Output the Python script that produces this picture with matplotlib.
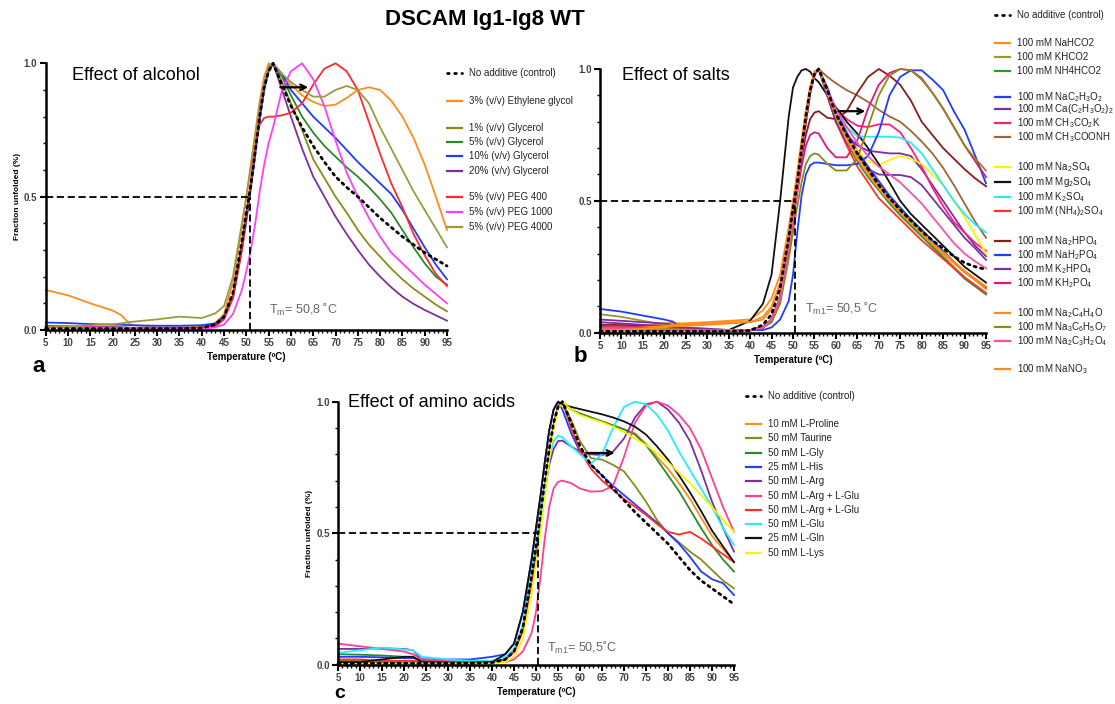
import matplotlib
matplotlib.use("Agg")
import matplotlib.pyplot as plt
from matplotlib.lines import Line2D

plt.rcParams['font.family'] = ['Liberation Sans', 'DejaVu Sans']
plt.rcParams['mathtext.fontset'] = 'custom'
plt.rcParams['mathtext.rm'] = 'Liberation Sans'
plt.rcParams['mathtext.default'] = 'regular'

# temperature grid shared by every curve
temps = [5, 10, 15, 20, 22, 24, 30, 35, 40,
         43, 45, 47, 49, 50, 51, 52, 53, 54, 55, 56,
         58, 60, 62.5, 65, 67.5, 70, 72.5, 75, 77.5, 80, 82.5, 85, 87.5, 90, 92.5, 95]

# ---- panel a: alcohols ----
control_a = [0.005, 0.005, 0.005, 0.005, 0.005, 0.005, 0.005, 0.005, 0.008,
             0.02, 0.05, 0.14, 0.33, 0.44, 0.54, 0.67, 0.8, 0.91, 0.97, 1.0,
             0.92, 0.84, 0.76, 0.69, 0.63, 0.575, 0.535, 0.5, 0.46, 0.42, 0.385, 0.35, 0.32, 0.29, 0.265, 0.24]
eg_3 = [0.15, 0.13, 0.1, 0.073, 0.055, 0.02, 0.01, 0.01, 0.012,
        0.025, 0.06, 0.18, 0.38, 0.5, 0.62, 0.74, 0.86, 0.95, 1.0, 0.99,
        0.96, 0.92, 0.88, 0.855, 0.84, 0.845, 0.87, 0.9, 0.91, 0.9, 0.86, 0.8, 0.72, 0.62, 0.5, 0.375]
gly_1 = [0.01, 0.01, 0.008, 0.008, 0.008, 0.008, 0.005, 0.005, 0.005,
         0.015, 0.045, 0.13, 0.32, 0.43, 0.55, 0.68, 0.81, 0.92, 0.98, 1.0,
         0.93, 0.85, 0.75, 0.64, 0.57, 0.5, 0.44, 0.375, 0.32, 0.275, 0.23, 0.19, 0.155, 0.125, 0.095, 0.07]
gly_5 = [0.012, 0.012, 0.01, 0.01, 0.01, 0.008, 0.008, 0.008, 0.008,
         0.02, 0.05, 0.13, 0.32, 0.43, 0.55, 0.68, 0.81, 0.92, 0.98, 1.0,
         0.95, 0.88, 0.8, 0.74, 0.69, 0.65, 0.61, 0.575, 0.535, 0.49, 0.44, 0.375, 0.31, 0.25, 0.2, 0.17]
gly_10 = [0.028, 0.026, 0.022, 0.02, 0.02, 0.018, 0.016, 0.016, 0.018,
          0.025, 0.05, 0.12, 0.3, 0.41, 0.53, 0.66, 0.79, 0.9, 0.97, 1.0,
          0.96, 0.9, 0.85, 0.8, 0.76, 0.72, 0.675, 0.63, 0.59, 0.55, 0.51, 0.45, 0.38, 0.31, 0.245, 0.19]
gly_20 = [0.015, 0.014, 0.012, 0.01, 0.01, 0.008, 0.008, 0.008, 0.008,
          0.02, 0.05, 0.13, 0.31, 0.42, 0.54, 0.67, 0.8, 0.91, 0.98, 1.0,
          0.9, 0.8, 0.68, 0.575, 0.5, 0.425, 0.36, 0.3, 0.245, 0.2, 0.16, 0.125, 0.098, 0.075, 0.055, 0.035]
peg_400 = [0.012, 0.01, 0.01, 0.008, 0.008, 0.006, 0.005, 0.005, 0.005,
           0.012, 0.04, 0.12, 0.3, 0.42, 0.55, 0.7, 0.77, 0.795, 0.8, 0.8,
           0.805, 0.815, 0.85, 0.92, 0.98, 1.0, 0.97, 0.9, 0.78, 0.66, 0.55, 0.46, 0.36, 0.28, 0.21, 0.165]
peg_1000 = [0.01, 0.01, 0.01, 0.008, 0.008, 0.008, 0.006, 0.005, 0.005,
            0.01, 0.02, 0.06, 0.15, 0.22, 0.3, 0.4, 0.52, 0.62, 0.7, 0.76,
            0.9, 0.97, 1.0, 0.94, 0.84, 0.71, 0.59, 0.5, 0.42, 0.35, 0.29, 0.25, 0.21, 0.17, 0.135, 0.1]
peg_4000 = [0.01, 0.012, 0.018, 0.022, 0.025, 0.03, 0.04, 0.05, 0.045,
            0.062, 0.09, 0.2, 0.4, 0.5, 0.61, 0.73, 0.84, 0.93, 0.99, 1.0,
            0.96, 0.93, 0.9, 0.875, 0.875, 0.9, 0.915, 0.9, 0.85, 0.76, 0.68, 0.6, 0.52, 0.45, 0.38, 0.31]

labels_a = ["3% (v/v) Ethylene glycol", "1% (v/v) Glycerol", "5% (v/v) Glycerol",
            "10% (v/v) Glycerol", "20% (v/v) Glycerol", "5% (v/v) PEG 400",
            "5% (v/v) PEG 1000", "5% (v/v) PEG 4000"]
colors_a = ["#ff8c1a", "#8b8b1a", "#2a8a2a", "#1f3cff", "#7b2fa3", "#ff2a2a", "#ff3dff", "#9b9b3c"]
series_a = [eg_3, gly_1, gly_5, gly_10, gly_20, peg_400, peg_1000, peg_4000]
legend_y_a = [100.7, 128.3, 141.7, 156, 170.7, 197.3, 212.3, 226.7]

# ---- panel b: salts ----
control_b = [0.005, 0.005, 0.005, 0.005, 0.005, 0.005, 0.005, 0.005, 0.008,
             0.03, 0.07, 0.17, 0.36, 0.47, 0.57, 0.7, 0.82, 0.92, 0.98, 1.0,
             0.92, 0.83, 0.75, 0.68, 0.62, 0.56, 0.51, 0.465, 0.425, 0.385, 0.35, 0.32, 0.29, 0.265, 0.25, 0.24]
nahco2 = [0.0, 0.012, 0.025, 0.035, 0.038, 0.035, 0.04, 0.045, 0.05,
          0.085, 0.13, 0.22, 0.4, 0.5, 0.61, 0.73, 0.84, 0.93, 0.99, 1.0,
          0.93, 0.84, 0.75, 0.68, 0.62, 0.565, 0.51, 0.465, 0.42, 0.38, 0.34, 0.3, 0.265, 0.23, 0.2, 0.17]
khco2 = [0.07, 0.06, 0.045, 0.03, 0.025, 0.02, 0.015, 0.01, 0.01,
         0.02, 0.05, 0.14, 0.33, 0.44, 0.56, 0.69, 0.81, 0.92, 0.98, 1.0,
         0.92, 0.82, 0.74, 0.67, 0.61, 0.55, 0.5, 0.45, 0.41, 0.37, 0.33, 0.29, 0.25, 0.21, 0.18, 0.15]
nh4hco2 = [0.02, 0.02, 0.015, 0.015, 0.012, 0.01, 0.01, 0.01, 0.01,
           0.02, 0.05, 0.13, 0.32, 0.43, 0.55, 0.68, 0.8, 0.91, 0.98, 1.0,
           0.91, 0.81, 0.72, 0.65, 0.59, 0.54, 0.49, 0.445, 0.405, 0.365, 0.325, 0.285, 0.245, 0.205, 0.175, 0.145]
nac2h3o2 = [0.09, 0.08, 0.065, 0.05, 0.042, 0.012, 0.01, 0.01, 0.01,
            0.02, 0.04, 0.12, 0.3, 0.42, 0.55, 0.68, 0.8, 0.91, 0.98, 1.0,
            0.93, 0.84, 0.76, 0.69, 0.63, 0.575, 0.52, 0.475, 0.43, 0.39, 0.35, 0.31, 0.27, 0.23, 0.2, 0.17]
ca_acetate = [0.05, 0.045, 0.04, 0.035, 0.03, 0.02, 0.015, 0.01, 0.01,
              0.02, 0.05, 0.13, 0.32, 0.43, 0.55, 0.68, 0.8, 0.91, 0.98, 1.0,
              0.9, 0.8, 0.75, 0.71, 0.69, 0.685, 0.68, 0.68, 0.67, 0.62, 0.56, 0.5, 0.44, 0.38, 0.33, 0.29]
ch3co2k = [0.03, 0.03, 0.025, 0.02, 0.02, 0.015, 0.01, 0.01, 0.01,
           0.02, 0.05, 0.13, 0.32, 0.43, 0.55, 0.68, 0.8, 0.91, 0.98, 1.0,
           0.9, 0.85, 0.81, 0.785, 0.78, 0.79, 0.79, 0.76, 0.7, 0.63, 0.55, 0.48, 0.42, 0.38, 0.34, 0.31]
ch3coonh = [0.02, 0.02, 0.018, 0.015, 0.015, 0.012, 0.01, 0.01, 0.01,
            0.02, 0.05, 0.13, 0.32, 0.43, 0.55, 0.68, 0.8, 0.91, 0.98, 1.0,
            0.97, 0.946, 0.92, 0.9, 0.875, 0.845, 0.82, 0.8, 0.765, 0.725, 0.68, 0.625, 0.56, 0.49, 0.42, 0.36]
na2so4 = [0.01, 0.01, 0.01, 0.01, 0.01, 0.008, 0.008, 0.008, 0.008,
          0.02, 0.05, 0.13, 0.32, 0.43, 0.55, 0.68, 0.8, 0.91, 0.98, 1.0,
          0.9, 0.8, 0.74, 0.69, 0.65, 0.635, 0.655, 0.67, 0.66, 0.64, 0.6, 0.56, 0.5, 0.44, 0.37, 0.3]
mg2so4 = [0.005, 0.005, 0.005, 0.005, 0.005, 0.005, 0.005, 0.01, 0.045,
          0.11, 0.22, 0.5, 0.82, 0.93, 0.97, 0.995, 1.0, 0.99, 0.965, 0.95,
          0.9, 0.855, 0.8, 0.755, 0.7, 0.64, 0.57, 0.5, 0.45, 0.41, 0.37, 0.33, 0.29, 0.25, 0.22, 0.19]
k2so4 = [0.005, 0.005, 0.005, 0.005, 0.005, 0.005, 0.005, 0.005, 0.008,
         0.02, 0.05, 0.13, 0.32, 0.43, 0.55, 0.68, 0.8, 0.91, 0.98, 1.0,
         0.9, 0.84, 0.78, 0.745, 0.743, 0.743, 0.743, 0.74, 0.72, 0.68, 0.62, 0.56, 0.5, 0.45, 0.41, 0.38]
nh42so4 = [0.015, 0.015, 0.012, 0.012, 0.01, 0.01, 0.008, 0.008, 0.008,
           0.02, 0.05, 0.13, 0.32, 0.43, 0.55, 0.68, 0.8, 0.91, 0.98, 1.0,
           0.9, 0.8, 0.71, 0.63, 0.57, 0.51, 0.47, 0.43, 0.39, 0.35, 0.315, 0.28, 0.245, 0.21, 0.18, 0.15]
na2hpo4 = [0.03, 0.028, 0.025, 0.02, 0.02, 0.015, 0.01, 0.01, 0.01,
           0.02, 0.05, 0.13, 0.32, 0.43, 0.55, 0.66, 0.75, 0.81, 0.835, 0.84,
           0.815, 0.81, 0.84, 0.91, 0.97, 1.0, 0.975, 0.94, 0.88, 0.8, 0.75, 0.7, 0.66, 0.62, 0.585, 0.555]
nah2po4 = [0.02, 0.02, 0.018, 0.015, 0.015, 0.012, 0.01, 0.01, 0.01,
           0.01, 0.02, 0.05, 0.12, 0.22, 0.38, 0.52, 0.6, 0.635, 0.645, 0.645,
           0.64, 0.635, 0.635, 0.64, 0.67, 0.76, 0.9, 0.97, 0.995, 0.995, 0.96, 0.92, 0.84, 0.77, 0.67, 0.566]
k2hpo4 = [0.04, 0.035, 0.03, 0.025, 0.02, 0.015, 0.01, 0.01, 0.01,
          0.02, 0.05, 0.13, 0.32, 0.43, 0.55, 0.68, 0.8, 0.91, 0.98, 1.0,
          0.9, 0.8, 0.72, 0.67, 0.62, 0.6, 0.598, 0.598, 0.59, 0.56, 0.51, 0.46, 0.41, 0.36, 0.32, 0.276]
kh2po4 = [0.025, 0.025, 0.02, 0.02, 0.018, 0.012, 0.01, 0.01, 0.01,
          0.02, 0.05, 0.13, 0.31, 0.42, 0.53, 0.63, 0.71, 0.75, 0.76, 0.755,
          0.7, 0.665, 0.665, 0.73, 0.85, 0.94, 0.985, 1.0, 0.995, 0.965, 0.91, 0.85, 0.78, 0.71, 0.65, 0.59]
na2c4h4o = [0.01, 0.015, 0.02, 0.025, 0.03, 0.03, 0.035, 0.04, 0.04,
            0.06, 0.1, 0.19, 0.38, 0.49, 0.6, 0.72, 0.84, 0.93, 0.99, 1.0,
            0.92, 0.83, 0.74, 0.67, 0.61, 0.555, 0.505, 0.46, 0.42, 0.38, 0.34, 0.305, 0.27, 0.235, 0.205, 0.175]
na3c6h5o7 = [0.02, 0.02, 0.018, 0.015, 0.015, 0.012, 0.01, 0.01, 0.01,
             0.02, 0.04, 0.11, 0.28, 0.38, 0.48, 0.57, 0.64, 0.67, 0.68, 0.675,
             0.64, 0.615, 0.615, 0.66, 0.78, 0.9, 0.975, 1.0, 0.995, 0.96, 0.91, 0.85, 0.78, 0.71, 0.66, 0.615]
na2c3h2o4 = [0.015, 0.015, 0.012, 0.012, 0.01, 0.01, 0.008, 0.008, 0.008,
             0.02, 0.05, 0.13, 0.32, 0.43, 0.55, 0.68, 0.8, 0.91, 0.98, 1.0,
             0.92, 0.85, 0.78, 0.72, 0.67, 0.63, 0.6, 0.57, 0.53, 0.49, 0.44, 0.39, 0.34, 0.3, 0.27, 0.244]
nano3 = [0.005, 0.01, 0.015, 0.02, 0.025, 0.025, 0.03, 0.035, 0.04,
         0.05, 0.09, 0.18, 0.37, 0.48, 0.59, 0.71, 0.83, 0.93, 0.99, 1.0,
         0.91, 0.82, 0.73, 0.66, 0.6, 0.545, 0.5, 0.455, 0.415, 0.375, 0.335, 0.3, 0.265, 0.23, 0.2, 0.165]

labels_b = ["100 mM NaHCO2", "100 mM KHCO2", "100 mM NH4HCO2",
            "100 mM NaC$_2$H$_3$O$_2$", "100 mM Ca(C$_2$H$_3$O$_2$)$_2$",
            "100 mM CH$_3$CO$_2$K", "100 mM CH$_3$COONH",
            "100 mM Na$_2$SO$_4$", "100 mM Mg$_2$SO$_4$", "100 mM K$_2$SO$_4$",
            "100 mM (NH$_4$)$_2$SO$_4$",
            "100 mM Na$_2$HPO$_4$", "100 mM NaH$_2$PO$_4$", "100 mM K$_2$HPO$_4$",
            "100 mM KH$_2$PO$_4$",
            "100 mM Na$_2$C$_4$H$_4$O", "100 mM Na$_3$C$_6$H$_5$O$_7$",
            "100 mM Na$_2$C$_3$H$_2$O$_4$", "100 mM NaNO$_3$"]
colors_b = ["#ff8c1a", "#9b9b2a", "#2a9a2a", "#1f3cff", "#7b2fa3", "#ff1f7a", "#a0643a",
            "#f5f500", "#111111", "#22eeff", "#ff3030",
            "#8b1c1c", "#1f3cff", "#7b2fa3", "#e0177a",
            "#ff8c1a", "#8b8b1a", "#ff4fa3", "#ff8c1a"]
series_b = [nahco2, khco2, nh4hco2, nac2h3o2, ca_acetate, ch3co2k, ch3coonh,
            na2so4, mg2so4, k2so4, nh42so4, na2hpo4, nah2po4, k2hpo4, kh2po4,
            na2c4h4o, na3c6h5o7, na2c3h2o4, nano3]
legend_y_b = [43.3, 57.3, 71, 96.7, 109.3, 122.7, 137.3, 166.7, 182.3, 196.7, 211,
              240.7, 255, 269.3, 283.3, 312.7, 326.7, 340.7, 369.3]

# ---- panel c: amino acids ----
control_c = [0.005, 0.005, 0.005, 0.005, 0.005, 0.005, 0.005, 0.005, 0.008,
             0.02, 0.05, 0.14, 0.34, 0.45, 0.57, 0.7, 0.82, 0.92, 0.98, 1.0,
             0.92, 0.83, 0.76, 0.72, 0.67, 0.625, 0.58, 0.54, 0.5, 0.46, 0.41, 0.36, 0.32, 0.29, 0.26, 0.23]
proline = [0.01, 0.01, 0.01, 0.01, 0.01, 0.005, 0.005, 0.005, 0.008,
           0.02, 0.05, 0.13, 0.32, 0.43, 0.55, 0.68, 0.8, 0.91, 0.98, 1.0,
           0.97, 0.955, 0.94, 0.925, 0.91, 0.895, 0.88, 0.84, 0.79, 0.745, 0.69, 0.63, 0.56, 0.49, 0.44, 0.39]
taurine = [0.015, 0.015, 0.01, 0.01, 0.01, 0.008, 0.005, 0.005, 0.008,
           0.02, 0.05, 0.13, 0.32, 0.43, 0.55, 0.68, 0.8, 0.91, 0.98, 1.0,
           0.93, 0.85, 0.785, 0.78, 0.76, 0.735, 0.68, 0.62, 0.55, 0.5, 0.465, 0.43, 0.4, 0.36, 0.32, 0.29]
gly = [0.04, 0.038, 0.035, 0.03, 0.03, 0.015, 0.01, 0.01, 0.01,
       0.02, 0.05, 0.13, 0.32, 0.43, 0.55, 0.68, 0.8, 0.91, 0.98, 1.0,
       0.97, 0.955, 0.94, 0.925, 0.91, 0.895, 0.875, 0.835, 0.78, 0.72, 0.66, 0.59, 0.52, 0.455, 0.4, 0.354]
his = [0.03, 0.03, 0.028, 0.025, 0.025, 0.02, 0.02, 0.02, 0.03,
       0.04, 0.08, 0.2, 0.4, 0.52, 0.64, 0.77, 0.89, 0.97, 1.0, 0.97,
       0.88, 0.81, 0.76, 0.72, 0.68, 0.645, 0.61, 0.575, 0.54, 0.5, 0.46, 0.41, 0.355, 0.325, 0.31, 0.265]
arg = [0.06, 0.06, 0.062, 0.06, 0.055, 0.02, 0.015, 0.01, 0.01,
       0.02, 0.05, 0.13, 0.32, 0.43, 0.55, 0.66, 0.76, 0.82, 0.85, 0.852,
       0.83, 0.81, 0.8, 0.797, 0.81, 0.86, 0.94, 0.99, 1.0, 0.97, 0.92, 0.85, 0.74, 0.62, 0.52, 0.43]
arg_glu_1 = [0.08, 0.07, 0.06, 0.05, 0.04, 0.02, 0.015, 0.01, 0.01,
             0.01, 0.02, 0.05, 0.12, 0.2, 0.33, 0.48, 0.6, 0.67, 0.695, 0.7,
             0.69, 0.67, 0.658, 0.66, 0.68, 0.79, 0.92, 0.985, 1.0, 0.985, 0.95, 0.9, 0.82, 0.71, 0.6, 0.506]
arg_glu_2 = [0.02, 0.02, 0.015, 0.015, 0.015, 0.01, 0.008, 0.005, 0.005,
             0.02, 0.05, 0.13, 0.32, 0.43, 0.55, 0.68, 0.8, 0.91, 0.98, 1.0,
             0.9, 0.815, 0.745, 0.7, 0.665, 0.63, 0.6, 0.57, 0.535, 0.505, 0.495, 0.505, 0.48, 0.45, 0.42, 0.39]
glu = [0.045, 0.055, 0.065, 0.058, 0.055, 0.03, 0.02, 0.015, 0.015,
       0.03, 0.06, 0.15, 0.35, 0.45, 0.56, 0.68, 0.78, 0.85, 0.87, 0.865,
       0.83, 0.8, 0.765, 0.8, 0.9, 0.98, 1.0, 0.99, 0.95, 0.89, 0.81, 0.74, 0.67, 0.6, 0.52, 0.455]
gln = [0.01, 0.01, 0.02, 0.03, 0.03, 0.01, 0.008, 0.008, 0.01,
       0.04, 0.08, 0.2, 0.4, 0.52, 0.64, 0.77, 0.89, 0.97, 1.0, 0.99,
       0.98, 0.972, 0.962, 0.952, 0.94, 0.925, 0.905, 0.875, 0.83, 0.78, 0.72, 0.655, 0.585, 0.51, 0.45, 0.39]
lys = [0.0, 0.0, 0.0, 0.005, 0.005, 0.005, 0.005, 0.005, 0.005,
       0.01, 0.03, 0.1, 0.27, 0.38, 0.5, 0.64, 0.78, 0.9, 0.97, 1.0,
       0.97, 0.95, 0.935, 0.922, 0.905, 0.885, 0.86, 0.835, 0.805, 0.77, 0.73, 0.69, 0.645, 0.6, 0.55, 0.506]

labels_c = ["10 mM L-Proline", "50 mM Taurine", "50 mM L-Gly", "25 mM L-His", "50 mM L-Arg",
            "50 mM L-Arg + L-Glu", "50 mM L-Arg + L-Glu", "50 mM L-Glu", "25 mM L-Gln", "50 mM L-Lys"]
colors_c = ["#ff8c1a", "#8b8b1a", "#2a8a2a", "#1f3cff", "#7b2fa3", "#ff3f8f", "#ff2a2a",
            "#22eeff", "#111111", "#f5f500"]
series_c = [proline, taurine, gly, his, arg, arg_glu_1, arg_glu_2, glu, gln, lys]
legend_y_c = [424, 438.3, 452.7, 467.3, 481, 496, 510, 524.3, 538.3, 553.3]

W, H = 1115, 704
fig = plt.figure(figsize=(W / 100, H / 100), dpi=100)


def px_axes(x0, y0, x1, y1):
    return fig.add_axes([x0 / W, 1 - y1 / H, (x1 - x0) / W, (y1 - y0) / H])


def style(ax):
    ax.set_xlim(5, 95)
    ax.set_ylim(0, 1)
    for s in ["top", "right"]:
        ax.spines[s].set_visible(False)
    for s in ["left", "bottom"]:
        ax.spines[s].set_linewidth(1.8)
    ax.set_xticks(range(5, 96, 5))
    ax.set_xticks(range(5, 96), minor=True)
    ax.set_yticks([0, 0.5, 1.0])
    ax.set_yticklabels(["0.0", "0.5", "1.0"])
    ax.set_yticks([i / 10 for i in range(11)], minor=True)
    ax.tick_params(which="major", length=4, width=1.5, labelsize=7, labelcolor="#444444", pad=2)
    ax.tick_params(which="minor", length=2.5, width=1)
    for lab in ax.get_xticklabels() + ax.get_yticklabels():
        lab.set_fontweight("bold")
    ax.set_xlabel("Temperature (ºC)", fontsize=7, fontweight="bold", labelpad=3)


def draw(ax, series, colors, control, tm, tm_text, arrow):
    for ys, c in zip(series, colors):
        ax.plot(temps, ys, color=c, lw=1.3, clip_on=False)
    ax.plot(temps, control, color="black", lw=2, linestyle=(0, (0.8, 1.6)),
            dash_capstyle="round", clip_on=False)
    ax.plot([5, tm], [0.5, 0.5], color="black", lw=1.3, dashes=(4, 2))
    ax.plot([tm, tm], [0, 0.5], color="black", lw=1.3, dashes=(4, 2))
    ax.text(tm_text[0], tm_text[1], tm_text[2], fontsize=9, color="#666666")
    ax.annotate("", xy=(arrow[1], arrow[2]), xytext=(arrow[0], arrow[2]),
                arrowprops=dict(arrowstyle="->", color="black", lw=1.6))


def legend(x0, ys, labels, colors, ctrl_y):
    fig.add_artist(Line2D([x0 / W, (x0 + 15) / W], [1 - ctrl_y / H] * 2, color="black", lw=2,
                          linestyle=(0, (0.6, 2)), dash_capstyle="round"))
    fig.text((x0 + 22) / W, 1 - ctrl_y / H, "No additive (control)", fontsize=7,
             va="center", color="#222222")
    for y, lab, c in zip(ys, labels, colors):
        fig.add_artist(Line2D([x0 / W, (x0 + 15) / W], [1 - y / H] * 2, color=c, lw=1.6))
        fig.text((x0 + 22) / W, 1 - y / H, lab, fontsize=7, va="center", color="#222222")


ax_a = px_axes(45.7, 63.3, 447, 330)
style(ax_a)
draw(ax_a, series_a, colors_a, control_a, 50.8, (55, 0.06, "T$_m$= 50,8 ˚C"), (57, 64.5, 0.91))
ax_a.set_ylabel("Fraction unfolded (%)", fontsize=6, fontweight="bold", labelpad=2)

ax_b = px_axes(600, 69, 986, 332.7)
style(ax_b)
draw(ax_b, series_b, colors_b, control_b, 50.5, (52.8, 0.075, "T$_{m1}$= 50,5 ˚C"), (60, 67.5, 0.84))

ax_c = px_axes(338, 401.7, 734, 664.7)
style(ax_c)
draw(ax_c, series_c, colors_c, control_c, 50.5, (52.5, 0.05, "T$_{m1}$= 50,5˚C"), (61, 68.5, 0.805))
ax_c.set_ylabel("Fraction unfolded (%)", fontsize=6, fontweight="bold", labelpad=2)

legend(447, legend_y_a, labels_a, colors_a, 72.7)
legend(995, legend_y_b, labels_b, colors_b, 15)
legend(746, legend_y_c, labels_c, colors_c, 396)

fig.text(485 / W, 1 - 19 / H, "DSCAM Ig1-Ig8 WT", fontsize=16, fontweight="bold",
         ha="center", va="center")
fig.text(72 / W, 1 - 75 / H, "Effect of alcohol", fontsize=13, va="center")
fig.text(622 / W, 1 - 75 / H, "Effect of salts", fontsize=13, va="center")
fig.text(348 / W, 1 - 403 / H, "Effect of amino acids", fontsize=13, va="center")
fig.text(39 / W, 1 - 366 / H, "a", fontsize=16, fontweight="bold", ha="center", va="center")
fig.text(580 / W, 1 - 357 / H, "b", fontsize=16, fontweight="bold", ha="center", va="center")
fig.text(340 / W, 1 - 694 / H, "c", fontsize=14, fontweight="bold", ha="center", va="center")

fig.savefig("out.png", dpi=100)
